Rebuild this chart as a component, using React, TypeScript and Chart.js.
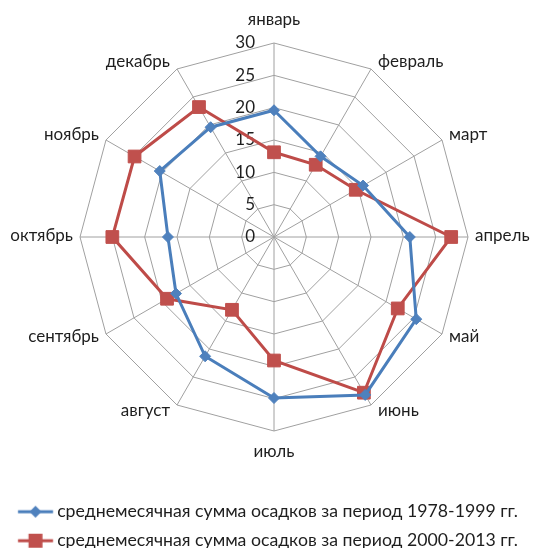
import { useEffect, useRef } from "react";
import { Chart, registerables } from "chart.js";

Chart.register(...registerables);

const months = ["январь", "февраль", "март", "апрель", "май", "июнь", "июль", "август", "сентябрь", "октябрь", "ноябрь", "декабрь"];
const series1978 = [19.6, 14.4, 15.9, 21.0, 25.4, 28.2, 24.9, 21.3, 17.5, 16.4, 20.4, 19.6];
const series2000 = [13.1, 12.9, 14.6, 27.4, 22.1, 27.8, 19.1, 13.0, 19.1, 25.0, 24.9, 23.2];
const tickValues = [0, 5, 10, 15, 20, 25, 30];
const seriesNames = [
  "среднемесячная сумма осадков за период 1978-1999 гг.",
  "среднемесячная сумма осадков за период 2000-2013 гг.",
];

const FONT = "Lato";
const FS = 17;
const LFS = 17.7;
const TEXT = "#1e1e1e";
const BLUE = "#4A7EBB";
const BLUE_FILL = "#4F81BD";
const RED = "#BE4B48";
const RED_FILL = "#C0504D";

function legendIcon(color: string, fill: string, shape: "diamond" | "square"): HTMLCanvasElement {
  const c = document.createElement("canvas");
  c.width = 44;
  c.height = 16;
  const ctx = c.getContext("2d")!;
  ctx.strokeStyle = color;
  ctx.lineWidth = 3;
  ctx.beginPath();
  ctx.moveTo(8.2, 8);
  ctx.lineTo(43.2, 8);
  ctx.stroke();
  ctx.fillStyle = fill;
  ctx.beginPath();
  const mx = 25.7;
  if (shape === "diamond") {
    ctx.moveTo(mx, 2);
    ctx.lineTo(mx + 6, 8);
    ctx.lineTo(mx, 14);
    ctx.lineTo(mx - 6, 8);
    ctx.closePath();
  } else {
    ctx.rect(mx - 7, 1, 14, 14);
  }
  ctx.fill();
  return c;
}

// Excel-style tick labels: right-aligned to the left of the vertical axis
const tickPlugin = {
  id: "excelTicks",
  beforeDatasetsDraw(chart: any) {
    const scale = chart.scales.r;
    const ctx = chart.ctx;
    ctx.save();
    ctx.font = `${FS}px ${FONT}`;
    ctx.fillStyle = TEXT;
    ctx.textAlign = "right";
    ctx.textBaseline = "middle";
    tickValues.forEach((v) => {
      const d = scale.getDistanceFromCenterForValue(v);
      ctx.fillText(String(v), scale.xCenter - 19, scale.yCenter - d);
    });
    ctx.restore();
  },
};

// Excel-style category labels placed next to the outer ring's vertices
const pointLabelPlugin = {
  id: "excelPointLabels",
  beforeDatasetsDraw(chart: any) {
    const scale = chart.scales.r;
    const ctx = chart.ctx;
    const labels: string[] = chart.data.labels;
    ctx.save();
    ctx.font = `${FS}px ${FONT}`;
    ctx.fillStyle = TEXT;
    ctx.textBaseline = "middle";
    labels.forEach((lab, i) => {
      const p = scale.getPointPosition(i, scale.drawingArea);
      const a = scale.getIndexAngle(i);
      const s = Math.sin(a);
      const c = Math.cos(a);
      let x = p.x;
      let y = p.y;
      if (Math.abs(s) < 1e-6) {
        ctx.textAlign = "center";
        y = p.y - c * 22 - 1;
      } else {
        ctx.textAlign = s > 0 ? "left" : "right";
        x = p.x + Math.sign(s) * 7;
        y = p.y - c * 8 - 1;
      }
      ctx.fillText(lab, x, y);
    });
    ctx.restore();
  },
};

export default function App() {
  const ref = useRef<HTMLCanvasElement>(null);
  useEffect(() => {
    document.body.style.margin = "0";
    document.body.style.overflow = "hidden";
    const icons = [legendIcon(BLUE, BLUE_FILL, "diamond"), legendIcon(RED, RED_FILL, "square")];
    const chart = new Chart(ref.current!, {
      type: "radar",
      data: {
        labels: months,
        datasets: [
          {
            label: seriesNames[0],
            data: series1978,
            borderColor: BLUE,
            backgroundColor: BLUE_FILL,
            pointBackgroundColor: BLUE_FILL,
            pointBorderColor: BLUE_FILL,
            borderWidth: 3,
            pointStyle: "rectRot",
            pointRadius: 5.5,
            pointBorderWidth: 1,
            fill: false,
          },
          {
            label: seriesNames[1],
            data: series2000,
            borderColor: RED,
            backgroundColor: RED_FILL,
            pointBackgroundColor: RED_FILL,
            pointBorderColor: RED_FILL,
            borderWidth: 3,
            pointStyle: "rect",
            pointRadius: 9,
            pointBorderWidth: 1,
            fill: false,
          },
        ],
      },
      options: {
        responsive: false,
        animation: false,
        layout: { padding: { left: 4, right: 0, top: 43, bottom: 2.45 } },
        elements: { line: { tension: 0 } },
        scales: {
          r: {
            min: 0,
            max: 30,
            ticks: { display: false, stepSize: 5 },
            grid: { color: "#a0a0a0", lineWidth: 1, circular: false },
            angleLines: { color: "#a0a0a0", lineWidth: 1 },
            pointLabels: { display: false },
          },
        },
        plugins: {
          tooltip: { enabled: false },
          legend: {
            position: "bottom",
            align: "start",
            title: { display: true, text: "", font: { size: 10 }, padding: { top: 0, bottom: 48.55 } },
            labels: {
              usePointStyle: true,
              pointStyleWidth: 33,
              padding: 11.3,
              color: TEXT,
              font: { family: FONT, size: LFS },
              generateLabels: (ch: any) => {
                const items = Chart.defaults.plugins.legend.labels.generateLabels(ch);
                items.forEach((it: any, i: number) => {
                  it.pointStyle = icons[i];
                });
                return items;
              },
            },
          },
        },
      },
      plugins: [tickPlugin, pointLabelPlugin],
    });
    return () => chart.destroy();
  }, []);
  return (
    <div style={{ width: 544, height: 562 }}>
      <canvas ref={ref} width={544} height={562} style={{ display: "block", width: 544, height: 562 }} />
    </div>
  );
}
